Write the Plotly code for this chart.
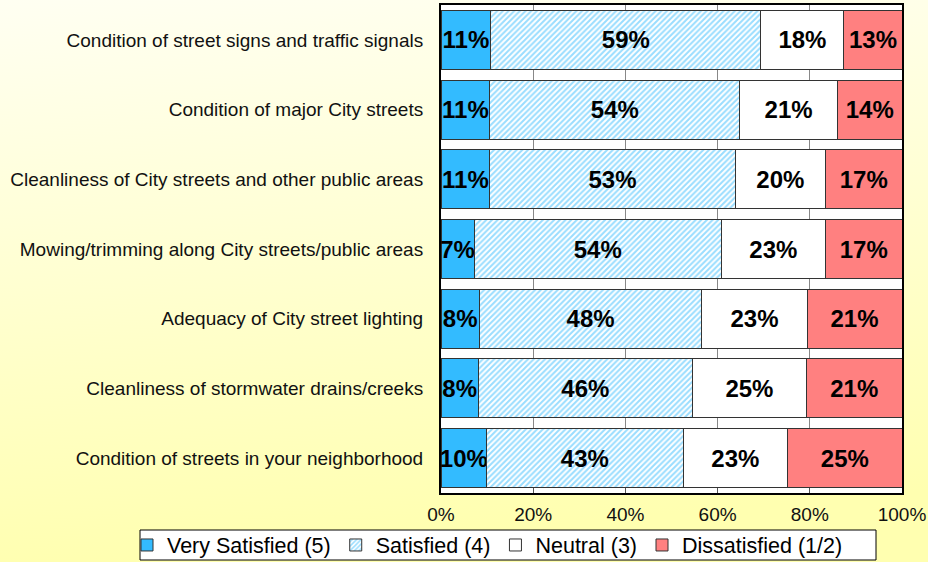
import base64
import plotly.graph_objects as go

categories = [
    "Condition of street signs and traffic signals",
    "Condition of major City streets",
    "Cleanliness of City streets and other public areas",
    "Mowing/trimming along City streets/public areas",
    "Adequacy of City street lighting",
    "Cleanliness of stormwater drains/creeks",
    "Condition of streets in your neighborhood",
]
very_satisfied = [10.8, 10.6, 10.6, 7.2, 8.3, 8.1, 9.9]
satisfied = [58.6, 54.2, 53.2, 53.6, 48.3, 46.4, 42.6]
neutral = [18.0, 21.2, 19.6, 22.6, 22.8, 24.8, 22.7]
dissatisfied = [12.6, 14.0, 16.6, 16.6, 20.6, 20.7, 24.8]
series_names = ["Very Satisfied (5)", "Satisfied (4)", "Neutral (3)", "Dissatisfied (1/2)"]
x_ticks = [0, 20, 40, 60, 80, 100]
x_tick_labels = ["0%", "20%", "40%", "60%", "80%", "100%"]

FONT = "Arial, Liberation Sans, sans-serif"
BLUE = "#33BBFF"
RED = "#FF8080"
OUTLINE = "#333333"

fig = go.Figure()
common = dict(
    y=categories,
    orientation="h",
    texttemplate="%{x:.0f}%",
    textposition="inside",
    insidetextanchor="middle",
    textangle=0,
    constraintext="none",
    textfont=dict(family=FONT, size=24, color="black", weight="bold"),
    hoverinfo="skip",
)
fig.add_trace(go.Bar(x=very_satisfied, name=series_names[0],
                     marker=dict(color=BLUE, line=dict(color=OUTLINE, width=1)), **common))
fig.add_trace(go.Bar(x=satisfied, name=series_names[1],
                     marker=dict(color="white", line=dict(color=OUTLINE, width=1),
                                 pattern=dict(shape="/", fgcolor=BLUE, bgcolor="white",
                                              size=4, solidity=0.5, fillmode="overlay")),
                     **common))
fig.add_trace(go.Bar(x=neutral, name=series_names[2],
                     marker=dict(color="white", line=dict(color=OUTLINE, width=1)), **common))
fig.add_trace(go.Bar(x=dissatisfied, name=series_names[3],
                     marker=dict(color=RED, line=dict(color=OUTLINE, width=1)), **common))

# gradient background as inline SVG
svg = ('<svg xmlns="http://www.w3.org/2000/svg" width="928" height="562" preserveAspectRatio="none">'
       '<defs><linearGradient id="g" x1="0" y1="0" x2="0.15" y2="1">'
       '<stop offset="0" stop-color="#FFFFF2"/><stop offset="1" stop-color="#FFFFB0"/>'
       '</linearGradient></defs><rect width="928" height="562" fill="url(#g)"/></svg>')
src = "data:image/svg+xml;base64," + base64.b64encode(svg.encode()).decode()

W, H = 928, 562
ml, mr, mt, mb = 441, 26, 5, 69
pw, ph = W - ml - mr, H - mt - mb


def px_x(v):
    return (v - ml) / pw


def px_y(v):
    return (mt + ph - v) / ph


fig.update_layout(
    width=W, height=H,
    margin=dict(l=ml, r=mr, t=mt, b=mb, pad=0, autoexpand=False),
    barmode="stack",
    bargap=0.155,
    paper_bgcolor="#FFFFD8",
    plot_bgcolor="rgba(0,0,0,0)",
    font=dict(family=FONT, color="black"),
    images=[dict(source=src, xref="paper", yref="paper",
                 x=px_x(0), y=px_y(0), sizex=W / pw, sizey=H / ph,
                 xanchor="left", yanchor="top", sizing="stretch", layer="below")],
    shapes=[
        dict(type="rect", xref="x domain", yref="y domain", x0=0, x1=1, y0=0, y1=1,
             fillcolor="white", line=dict(width=0), layer="below"),
        # legend frame
        dict(type="rect", xref="paper", yref="paper",
             x0=px_x(140), x1=px_x(876), y0=px_y(560), y1=px_y(530),
             fillcolor="white", line=dict(color="black", width=1), layer="above"),
    ],
    showlegend=True,
    legend=dict(orientation="h", traceorder="normal",
                x=px_x(127), xanchor="left",
                y=px_y(545), yanchor="middle",
                bgcolor="rgba(0,0,0,0)", borderwidth=0,
                font=dict(family=FONT, size=21.5, color="black"),
                itemwidth=30, tracegroupgap=0),
    xaxis=dict(range=[0, 100], tickvals=x_ticks, ticktext=x_tick_labels,
               showgrid=True, gridcolor="#888888", gridwidth=1,
               ticks="inside", ticklen=5, tickcolor="#555555",
               showline=True, linecolor="black", linewidth=2, mirror=True,
               tickfont=dict(family=FONT, size=19, color="#111111"),
               ticklabelstandoff=3, zeroline=False, fixedrange=True, automargin=False),
    yaxis=dict(categoryorder="array", categoryarray=categories, autorange="reversed",
               showline=True, linecolor="black", linewidth=2, mirror=True,
               ticks="", showgrid=False,
               tickfont=dict(family=FONT, size=19, color="#111111"),
               ticklabelstandoff=12, fixedrange=True, automargin=False),
)

fig.write_html("out.html", config={"displayModeBar": False},
               post_script="document.body.style.margin='0px';")
